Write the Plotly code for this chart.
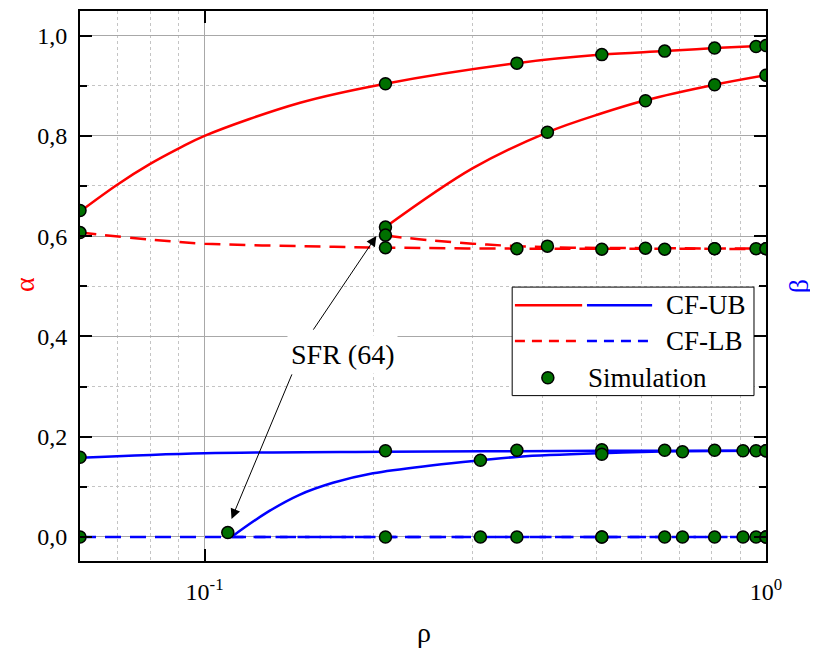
import numpy as np
import plotly.graph_objects as go

# ---------------- data ----------------
rho_a_ub1 = [0.06, 0.07, 0.08, 0.09, 0.1, 0.148, 0.21, 0.36, 0.51, 0.66, 0.81, 1.0]
alpha_ub1 = [0.649, 0.703, 0.744, 0.775, 0.800, 0.866, 0.904, 0.945, 0.962, 0.969, 0.975, 0.98]

rho_a_ub2 = [0.21, 0.3, 0.408, 0.51, 0.61, 0.81, 1.0]
alpha_ub2 = [0.618, 0.735, 0.807, 0.845, 0.871, 0.902, 0.921]

rho_a_lb1 = [0.06, 0.08, 0.1, 0.148, 0.21, 0.36, 0.6, 1.0]
alpha_lb1 = [0.607, 0.593, 0.585, 0.580, 0.577, 0.575, 0.575, 0.574]

rho_a_lb2 = [0.21, 0.25, 0.3, 0.36, 0.45, 0.6, 1.0]
alpha_lb2 = [0.601, 0.592, 0.585, 0.580, 0.577, 0.576, 0.575]

rho_b_ub1 = [0.06, 0.1, 0.21, 0.36, 0.6, 1.0]
beta_ub1 = [0.158, 0.167, 0.170, 0.171, 0.172, 0.172]

rho_b_ub2 = [0.1117, 0.1288, 0.1476, 0.1693, 0.1995, 0.2553, 0.311, 0.364, 0.51, 0.7, 1.0]
beta_ub2 = [0.0, 0.048, 0.084, 0.108, 0.127, 0.143, 0.153, 0.160, 0.167, 0.171, 0.172]

rho_b_lb1 = [0.06, 1.0]
beta_lb1 = [0.0, 0.0]

rho_b_lb2 = [0.1117, 1.0]
beta_lb2 = [0.0, 0.0]

# Simulation points
rho_sim1 = [0.06, 0.21, 0.36, 0.51, 0.66, 0.81, 0.96, 1.0]
sim_alpha_ub1 = [0.651, 0.904, 0.945, 0.962, 0.969, 0.975, 0.978, 0.98]
sim_alpha_lb1 = [0.607, 0.577, 0.575, 0.574, 0.574, 0.575, 0.575, 0.575]
sim_beta_ub1 = [0.159, 0.172, 0.173, 0.174, 0.173, 0.173, 0.172, 0.172]
sim_beta_lb1 = [0.0, 0.0, 0.0, 0.0, 0.0, 0.0, 0.0, 0.0]

rho_sim_a2 = [0.21, 0.408, 0.61, 0.81, 1.0]
sim_alpha_ub2 = [0.618, 0.807, 0.870, 0.902, 0.921]
sim_alpha_lb2 = [0.602, 0.580, 0.576, 0.575, 0.575]

rho_sim_b2 = [0.11, 0.31, 0.51, 0.71, 0.91, 1.0]
sim_beta_ub2 = [0.009, 0.153, 0.165, 0.170, 0.172, 0.172]
rho_sim_b2_lb = [0.31, 0.51, 0.71, 0.91, 1.0]
sim_beta_lb2 = [0.0, 0.0, 0.0, 0.0, 0.0]

x_tickvals = [0.1, 1.0]
x_ticktext = ["10<sup>-1</sup>", "10<sup>0</sup>"]
x_minor = [0.07, 0.08, 0.09, 0.2, 0.3, 0.4, 0.5, 0.6, 0.7, 0.8, 0.9]
y_tickvals = [0.0, 0.2, 0.4, 0.6, 0.8, 1.0]
y_minor = [0.1, 0.3, 0.5, 0.7, 0.9]

legend_labels = ["CF-UB", "CF-LB", "Simulation"]
annot_text = "SFR (64)"

# ---------------- styles ----------------
RED = "#ff0000"
BLUE = "#0000ff"
GREEN = "#007000"
LW = 2.5
DASH = "16px,9px"
FONT = "Liberation Serif, Times New Roman, serif"

fig = go.Figure()

def line(x, y, color, dash, yaxis="y"):
    fig.add_trace(go.Scatter(x=x, y=y, mode="lines", yaxis=yaxis, showlegend=False,
                             line=dict(color=color, width=LW, dash=dash, shape="spline", smoothing=1.0),
                             hoverinfo="skip"))

line(rho_a_ub1, alpha_ub1, RED, "solid")
line(rho_a_ub2, alpha_ub2, RED, "solid")
line(rho_a_lb1, alpha_lb1, RED, DASH)
line(rho_a_lb2, alpha_lb2, RED, DASH)
line(rho_b_ub1, beta_ub1, BLUE, "solid", "y2")
line(rho_b_ub2, beta_ub2, BLUE, "solid", "y2")
line(rho_b_lb1, beta_lb1, BLUE, DASH, "y2")
line(rho_b_lb2, beta_lb2, BLUE, "12px,10px", "y2")

mk = dict(color=GREEN, size=12, line=dict(color="black", width=1.5))

def pts(x, y, yaxis="y"):
    fig.add_trace(go.Scatter(x=x, y=y, mode="markers", yaxis=yaxis, showlegend=False, marker=mk))

pts(rho_sim1, sim_alpha_ub1)
pts(rho_sim1, sim_alpha_lb1)
pts(rho_sim_a2, sim_alpha_ub2)
pts(rho_sim_a2, sim_alpha_lb2)
pts(rho_sim1, sim_beta_ub1, "y2")
pts(rho_sim1, sim_beta_lb1, "y2")
pts(rho_sim_b2, sim_beta_ub2, "y2")
pts(rho_sim_b2_lb, sim_beta_lb2, "y2")

YR = [-0.048, 1.049]
tick_font = dict(family=FONT, size=24, color="black")

# page has an 8px body margin, so the figure is 8px smaller than the window
fig.update_layout(
    width=810, height=643,
    margin=dict(l=72, r=52, t=1, b=90),
    paper_bgcolor="white", plot_bgcolor="white",
    font=dict(family=FONT, color="black"),
    separators=",.",
    xaxis=dict(type="log", range=[np.log10(0.06), 0], tickvals=x_tickvals, ticktext=x_ticktext,
               ticks="inside", ticklen=12, tickwidth=1.5, tickcolor="black",
               showline=True, linecolor="black", linewidth=2, mirror="ticks",
               showgrid=True, gridcolor="#a8a8a8", gridwidth=1, zeroline=False,
               tickfont=tick_font, ticklabelstandoff=8,
               minor=dict(tickvals=x_minor, ticks="", showgrid=True, griddash="dot",
                          gridcolor="#c4c4c4", gridwidth=1)),
    yaxis=dict(range=YR, tickvals=y_tickvals, tickformat=".1f",
               ticks="inside", ticklen=12, tickwidth=1.5, tickcolor="black",
               showline=True, linecolor="black", linewidth=2,
               showgrid=True, gridcolor="#a8a8a8", gridwidth=1, zeroline=False,
               tickfont=tick_font, ticklabelstandoff=6,
               minor=dict(tickvals=y_minor, ticks="inside", ticklen=7, tickcolor="black",
                          showgrid=True, griddash="dot", gridcolor="#c4c4c4", gridwidth=1)),
    yaxis2=dict(range=YR, overlaying="y", side="right", tickvals=y_tickvals,
                showticklabels=False, ticks="inside", ticklen=12, tickwidth=1.5, tickcolor="black",
                showline=True, linecolor="black", linewidth=2, showgrid=False, zeroline=False,
                minor=dict(tickvals=y_minor, ticks="inside", ticklen=7, tickcolor="black",
                           showgrid=False)),
)

# ---------- axis titles ----------
title_kw = dict(xref="paper", yref="paper", showarrow=False, xanchor="center", yanchor="middle")
fig.add_annotation(text="α", x=-0.080, y=0.502, textangle=-90,
                   font=dict(family=FONT, size=28, color=RED), **title_kw)
fig.add_annotation(text="β", x=1.047, y=0.500, textangle=-90,
                   font=dict(family=FONT, size=28, color=BLUE), **title_kw)
fig.add_annotation(text="ρ", x=0.502, y=-0.130,
                   font=dict(family=FONT, size=28, color="black"), **title_kw)

# ---------- SFR annotation with two arrows ----------
arrow = dict(showarrow=True, arrowhead=2, arrowsize=2, arrowwidth=1, arrowcolor="black",
             standoff=0, startstandoff=0, text="")
fig.add_annotation(x=np.log10(0.2023), y=0.600, xref="x", yref="y", ax=-64, ay=95, **arrow)
fig.add_annotation(x=np.log10(0.1117), y=0.036, xref="x", yref="y", ax=61, ay=-146, **arrow)
fig.add_annotation(text=annot_text, x=0.382, y=0.375, bgcolor="white", borderpad=3,
                   font=dict(family=FONT, size=28, color="black"), **title_kw)

# ---------- custom legend (two line samples per entry) ----------
shapes = [dict(type="rect", xref="paper", yref="paper", x0=0.630, x1=0.9825, y0=0.3007, y1=0.498,
               line=dict(color="black", width=1), fillcolor="white", layer="above")]
row_y = [0.465, 0.3998, 0.3333]
for ry, dash in zip(row_y[:2], ["solid", "10px,7px"]):
    shapes.append(dict(type="line", xref="paper", yref="paper", x0=0.634, x1=0.732, y0=ry, y1=ry,
                       line=dict(color=RED, width=2.5, dash=dash), layer="above"))
    shapes.append(dict(type="line", xref="paper", yref="paper", x0=0.739, x1=0.834, y0=ry, y1=ry,
                       line=dict(color=BLUE, width=2.5, dash=dash), layer="above"))
shapes.append(dict(type="circle", xref="paper", yref="paper", xsizemode="pixel", ysizemode="pixel",
                   xanchor=0.682, yanchor=row_y[2], x0=-6, x1=6, y0=-6, y1=6,
                   fillcolor=GREEN, line=dict(color="black", width=1.5), layer="above"))
fig.update_layout(shapes=shapes)

for i, (lbl, lx) in enumerate(zip(legend_labels, [0.851, 0.851, 0.738])):
    fig.add_annotation(text=lbl, xref="paper", yref="paper", x=lx, y=row_y[i],
                       xanchor="left", yanchor="middle", showarrow=False,
                       font=dict(family=FONT, size=27, color="black"))

fig.write_html("out.html")
